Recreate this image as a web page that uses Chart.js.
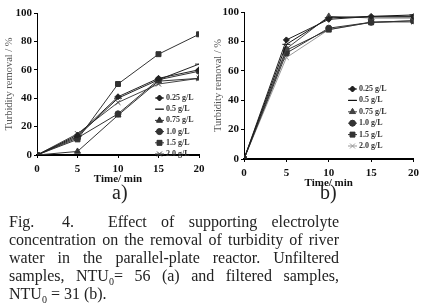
<!DOCTYPE html>
<html lang="en">
<head>
<meta charset="UTF-8">
<title>Fig. 4</title>
<script src="https://cdn.jsdelivr.net/npm/chart.js"></script>
<style>
    body { margin: 0; background: #fff; width: 424px; height: 307px; position: relative; overflow: hidden; }
    .panel { position: absolute; top: 0; }
    .tag { position: absolute; top: 181px; font: 20px "Liberation Serif", serif; color: #222; }
    #caption {
        position: absolute; left: 9px; top: 213px; width: 330px;
        font: 16px "Liberation Serif", serif; line-height: 18px; color: #222;
    }
    #caption div { text-align: justify; text-align-last: justify; white-space: nowrap; }
    #caption div.last { text-align-last: left; }
    #caption .w { display: inline-block; text-align-last: left; }
    #caption sub { font-size: 10px; line-height: 0; }
</style>
</head>
<body>
    <div class="panel" style="left:0px"><canvas id="chartA" width="212" height="186"></canvas></div>
    <div class="panel" style="left:212px"><canvas id="chartB" width="212" height="190"></canvas></div>
    <div class="tag" style="left:112px">a)</div>
    <div class="tag" style="left:320px">b)</div>
    <div id="caption">
        <div><span class="w" style="width:53px">Fig.</span><span class="w" style="width:46px">4.</span>Effect of supporting electrolyte</div>
        <div>concentration on the removal of turbidity of river</div>
        <div>water in the parallel-plate reactor. Unfiltered</div>
        <div>samples, NTU<sub>0</sub>= 56 (a) and filtered samples,</div>
        <div class="last">NTU<sub>0</sub> = 31 (b).</div>
    </div>

<script>
    const times = [0, 5, 10, 15, 20]
    const labels = ['0.25 g/L', '0.5 g/L', '0.75 g/L', '1.0 g/L', '1.5 g/L', '2.0 g/L']
    const yTicks = [0, 10, 20, 30, 40, 50, 60, 70, 80, 90, 100]

    // (a) unfiltered samples
    const a025 = [0, 14, 41, 54, 60]
    const a05 = [0, 13, 40, 53, 64]
    const a075 = [0, 2.5, 28, 52, 54]
    const a10 = [0, 12, 29, 53, 59]
    const a15 = [0, 11, 50, 71, 85]
    const a20 = [0, 15, 37, 50, 54]

    // (b) filtered samples
    const b025 = [0, 81, 95, 97, 97]
    const b05 = [0, 78, 96, 97, 98]
    const b075 = [0, 75, 97, 96, 96]
    const b10 = [0, 72, 89, 93, 94]
    const b15 = [0, 74, 88, 93, 94]
    const b20 = [0, 69, 88, 93, 93]

    const markers = ['rectRot', 'line', 'triangle', 'circle', 'rect', 'crossRot']
    const markerSize = [3, 4, 3.5, 3, 3.5, 3.5]

    function makeSets(series, colors) {
        return series.map((vals, i) => ({
            label: labels[i],
            data: vals.map((v, j) => ({ x: times[j], y: v })),
            borderColor: colors[i],
            backgroundColor: colors[i],
            borderWidth: 1,
            pointStyle: markers[i],
            pointRadius: markerSize[i],
            pointBorderWidth: 1,
            tension: 0
        }))
    }

    // legend drawn inside the plot
    const innerLegend = {
        id: 'innerLegend',
        afterDraw(chart, args, opts) {
            const { ctx, chartArea } = chart
            ctx.save()
            ctx.font = 'bold 8px "Liberation Serif", serif'
            ctx.textBaseline = 'middle'
            chart.data.datasets.forEach((ds, i) => {
                const x = chartArea.left + opts.x
                const y = chartArea.top + opts.y + i * opts.step
                ctx.strokeStyle = ds.borderColor
                ctx.fillStyle = ds.borderColor
                ctx.lineWidth = 1
                ctx.beginPath()
                ctx.moveTo(x, y)
                ctx.lineTo(x + 9, y)
                ctx.stroke()
                Chart.helpers.drawPoint(ctx, { pointStyle: ds.pointStyle, radius: ds.pointRadius, borderWidth: 1 }, x + 4.5, y)
                if (ds.pointStyle !== 'crossRot' && ds.pointStyle !== 'line') ctx.fill()
                ctx.fillStyle = '#333'
                ctx.fillText(ds.label, x + 11, y)
            })
            ctx.restore()
        }
    }

    function makeConfig(sets, pad, yWidth, legendPos) {
        return {
            type: 'line',
            data: { datasets: sets },
            plugins: [innerLegend],
            options: {
                responsive: false,
                animation: false,
                layout: { padding: pad },
                plugins: {
                    legend: { display: false },
                    tooltip: { enabled: false },
                    innerLegend: legendPos
                },
                scales: {
                    x: {
                        type: 'linear',
                        min: 0, max: 20,
                        afterBuildTicks: s => { s.ticks = times.map(v => ({ value: v })) },
                        afterFit: s => { s.height = 31 },
                        border: { color: '#000', width: 2 },
                        grid: { drawOnChartArea: false, drawTicks: true, tickLength: 3, color: '#000' },
                        ticks: { color: '#111', font: { family: 'Liberation Serif', weight: 'bold', size: 11 }, padding: 5 },
                        title: { display: true, text: 'Time/ min', color: '#111', padding: 0, font: { family: 'Liberation Serif', weight: 'bold', size: 11 } }
                    },
                    y: {
                        min: 0, max: 100,
                        afterBuildTicks: s => { s.ticks = yTicks.map(v => ({ value: v })) },
                        afterFit: s => { s.width = yWidth },
                        border: { color: '#000', width: 1 },
                        grid: { drawOnChartArea: false, drawTicks: true, tickLength: 3, color: '#000' },
                        ticks: { color: '#111', font: { family: 'Liberation Serif', weight: 'bold', size: 11 }, padding: 2 },
                        title: { display: true, text: 'Turbidity removal / %', color: '#555', padding: 0, font: { family: 'Liberation Serif', size: 10.5 } }
                    }
                }
            }
        }
    }

    const darkA = ['#222', '#222', '#333', '#333', '#333', '#444']
    const darkB = ['#222', '#111', '#444', '#333', '#333', '#999']

    new Chart(document.getElementById('chartA'),
        makeConfig(makeSets([a025, a05, a075, a10, a15, a20], darkA),
            { top: 13, right: 13, left: 3, bottom: 0 }, 34, { x: 118, y: 85, step: 11.2 }))

    new Chart(document.getElementById('chartB'),
        makeConfig(makeSets([b025, b05, b075, b10, b15, b20], darkB),
            { top: 12, right: 10, left: 0, bottom: 0 }, 32, { x: 104, y: 77, step: 11.4 }))
</script>
</body>
</html>
